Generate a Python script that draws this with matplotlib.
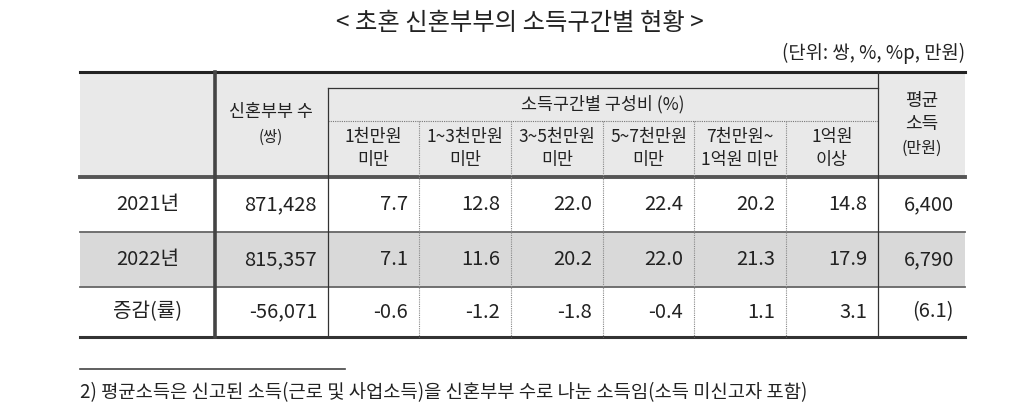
import matplotlib.pyplot as plt

plt.rcParams['font.family'] = ['Noto Sans CJK KR', 'DejaVu Sans']

title = '< 초혼 신혼부부의 소득구간별 현황 >'
unit_note = '(단위: 쌍, %, %p, 만원)'
footnote = '2) 평균소득은 신고된 소득(근로 및 사업소득)을 신혼부부 수로 나눈 소득임(소득 미신고자 포함)'

row_labels = ['2021년', '2022년', '증감(률)']
couples = ['871,428', '815,357', '-56,071']
band_headers = [('1천만원', '미만'), ('1~3천만원', '미만'), ('3~5천만원', '미만'),
                ('5~7천만원', '미만'), ('7천만원~', '1억원 미만'), ('1억원', '이상')]
shares_2021 = [7.7, 12.8, 22.0, 22.4, 20.2, 14.8]
shares_2022 = [7.1, 11.6, 20.2, 22.0, 21.3, 17.9]
shares_diff = [-0.6, -1.2, -1.8, -0.4, 1.1, 3.1]
avg_income = ['6,400', '6,790', '(6.1)']

# layout in pixels
W, H = 1024, 416
x_left, x_right = 80, 965
x_cols = [80, 215, 328, 419, 511, 603, 694, 786, 878, 965]
y_top, y_mid1, y_mid2, y_head = 72, 88, 121, 177
y_rows = [177, 232, 287, 337]
txt = '#222222'

fig = plt.figure(figsize=(W / 100, H / 100), dpi=100)
ax = fig.add_axes([0, 0, 1, 1])
ax.set_xlim(0, W)
ax.set_ylim(H, 0)
ax.axis('off')

# backgrounds
ax.fill_between([x_left, x_right], y_top, y_head, color='#e9e9e9', lw=0)
ax.fill_between([x_left, x_right], y_rows[1], y_rows[2], color='#d9d9d9', lw=0)

# horizontal rules
ax.plot([x_left, x_right], [y_top, y_top], color='#222222', lw=2.2)
ax.plot([x_left, x_right], [y_head, y_head], color='#555555', lw=2.8)
ax.plot([x_left, x_right], [y_rows[1], y_rows[1]], color='#666666', lw=1.3)
ax.plot([x_left, x_right], [y_rows[2], y_rows[2]], color='#666666', lw=1.3)
ax.plot([x_left, x_right], [y_rows[3], y_rows[3]], color='#333333', lw=2.2)
ax.plot([x_cols[2], x_cols[8]], [y_mid1, y_mid1], color='#333333', lw=0.9)
ax.plot([x_cols[2], x_cols[8]], [y_mid2, y_mid2], color='#777777', lw=0.8, ls=(0, (1, 1)))

# vertical rules
ax.plot([x_cols[1], x_cols[1]], [y_top, y_rows[3]], color='#444444', lw=2.6)
ax.plot([x_cols[2], x_cols[2]], [y_mid1, y_rows[3]], color='#333333', lw=0.9)
ax.plot([x_cols[8], x_cols[8]], [y_top, y_rows[3]], color='#333333', lw=0.9)
for xc in x_cols[3:8]:
    ax.plot([xc, xc], [y_mid2, y_rows[3]], color='#888888', lw=0.8, ls=(0, (1, 1)))

# title and unit
ax.text(520, 23, title, ha='center', va='center', fontsize=17.5, color=txt)
ax.text(x_right, 53, unit_note, ha='right', va='center', fontsize=13.5, color=txt)

# header texts
ax.text(271, 112, '신혼부부 수', ha='center', va='center', fontsize=12.5, color=txt)
ax.text(271, 137, '(쌍)', ha='center', va='center', fontsize=11, color=txt)
ax.text((x_cols[2] + x_cols[8]) / 2, 104, '소득구간별 구성비 (%)', ha='center', va='center',
        fontsize=12.5, color=txt)
for i, (l1, l2) in enumerate(band_headers):
    xc = (x_cols[2 + i] + x_cols[3 + i]) / 2
    ax.text(xc, 137, l1, ha='center', va='center', fontsize=12.5, color=txt)
    ax.text(xc, 160, l2, ha='center', va='center', fontsize=12.5, color=txt)
xc = (x_cols[8] + x_cols[9]) / 2
ax.text(xc, 101, '평균', ha='center', va='center', fontsize=13, color=txt)
ax.text(xc, 124, '소득', ha='center', va='center', fontsize=13, color=txt)
ax.text(xc, 148, '(만원)', ha='center', va='center', fontsize=11.5, color=txt)

# body
pad = 11
all_shares = [shares_2021, shares_2022, shares_diff]
for r, label in enumerate(row_labels):
    yc = (y_rows[r] + y_rows[r + 1]) / 2
    ax.text((x_cols[0] + x_cols[1]) / 2, yc, label, ha='center', va='center',
            fontsize=14.5, color=txt)
    ax.text(x_cols[2] - pad, yc, couples[r], ha='right', va='center', fontsize=14.5, color=txt)
    for i, v in enumerate(all_shares[r]):
        ax.text(x_cols[3 + i] - pad, yc, f'{v:.1f}', ha='right', va='center',
                fontsize=14.5, color=txt)
    ax.text(x_cols[9] - pad, yc, avg_income[r], ha='right', va='center', fontsize=14.5, color=txt)

# footnote
ax.plot([80, 345], [369, 369], color='#444444', lw=1.2)
ax.text(80, 393, footnote, ha='left', va='center', fontsize=13.5, color=txt)

fig.savefig('out.png', dpi=100)
